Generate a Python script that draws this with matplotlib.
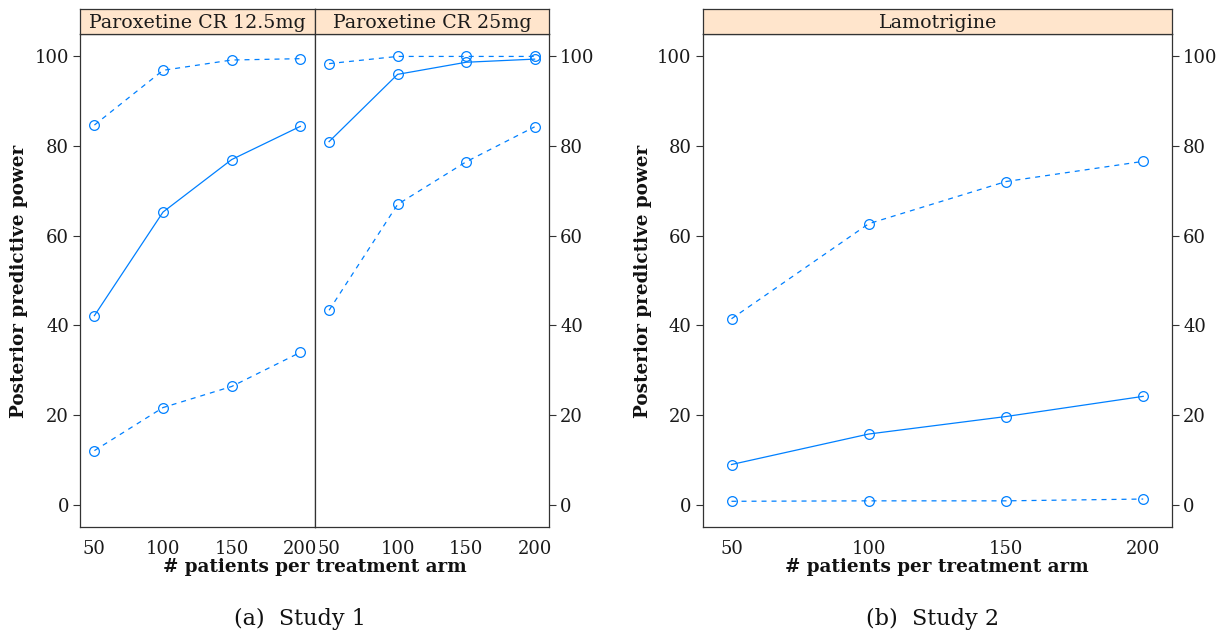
import matplotlib
matplotlib.use("Agg")
import matplotlib.pyplot as plt

# ---- data ----
n_patients = [50, 100, 150, 200]

panel_titles = ["Paroxetine CR 12.5mg", "Paroxetine CR 25mg", "Lamotrigine"]

# Study 1, Paroxetine CR 12.5mg
p125_upper = [84.7, 96.9, 99.2, 99.5]
p125_mid = [42.2, 65.3, 77.0, 84.4]
p125_lower = [12.1, 21.7, 26.4, 34.0]

# Study 1, Paroxetine CR 25mg
p25_upper = [98.4, 100.0, 100.0, 100.0]
p25_mid = [81.0, 96.0, 98.7, 99.4]
p25_lower = [43.4, 67.0, 76.5, 84.3]

# Study 2, Lamotrigine
lam_upper = [41.5, 62.7, 72.1, 76.6]
lam_mid = [9.0, 15.8, 19.7, 24.2]
lam_lower = [0.8, 0.9, 0.9, 1.3]

x_ticks = [50, 100, 150, 200]
y_ticks = [0, 20, 40, 60, 80, 100]

xlabel = "# patients per treatment arm"
ylabel = "Posterior predictive power"
captions = ["(a)  Study 1", "(b)  Study 2"]

# ---- style ----
W, H = 1225, 637
DPI = 100
BLUE = "#0080ff"
FRAME = "#333333"
STRIP_BG = "#ffe5cc"
SERIF = ["DejaVu Serif"]
TICK_FS = 13
STRIP_FS = 13.7
LABEL_FS = 13.2
CAP_FS = 16

plt.rcParams["font.family"] = SERIF

fig = plt.figure(figsize=(W / DPI, H / DPI), dpi=DPI)


def rect(x0, y0, x1, y1):
    """pixel box (top-left origin) -> figure fraction rect"""
    return [x0 / W, 1 - y1 / H, (x1 - x0) / W, (y1 - y0) / H]


AX_TOP, AX_BOT = 34.0, 527.3
STRIP_TOP = 9.3


def make_panel(x0, x1, title, series, left_ticks, right_ticks):
    ax = fig.add_axes(rect(x0, AX_TOP, x1, AX_BOT))
    for vals, ls in series:
        ax.plot(n_patients, vals, color=BLUE, lw=0.9, linestyle=ls,
                marker="o", markersize=7, markerfacecolor="none",
                markeredgecolor=BLUE, markeredgewidth=0.9)
    ax.set_xlim(39.5, 210.5)
    ax.set_ylim(-5, 105)
    ax.set_xticks(x_ticks)
    ax.set_xticklabels([str(v) for v in x_ticks])
    ax.set_yticks(y_ticks)
    ax.set_yticklabels([str(v) for v in y_ticks])
    ax.tick_params(axis="x", length=0, pad=9, labelsize=TICK_FS, colors="#1a1a1a")
    ax.tick_params(axis="y", length=5, width=0.8, pad=3, labelsize=TICK_FS,
                   color=FRAME, labelcolor="#1a1a1a", direction="out",
                   left=left_ticks, labelleft=left_ticks,
                   right=right_ticks, labelright=right_ticks)
    for sp in ax.spines.values():
        sp.set_color(FRAME)
        sp.set_linewidth(0.9)
    # strip
    sax = fig.add_axes(rect(x0, STRIP_TOP, x1, AX_TOP))
    sax.set_facecolor(STRIP_BG)
    sax.set_xticks([])
    sax.set_yticks([])
    for sp in sax.spines.values():
        sp.set_color(FRAME)
        sp.set_linewidth(0.9)
    sax.text(0.5, 0.45, title, ha="center", va="center", fontsize=STRIP_FS,
             color="#1a1a1a", transform=sax.transAxes)
    return ax


DASH = (0, (4, 4))
make_panel(80.0, 314.7, panel_titles[0],
           [(p125_upper, DASH), (p125_mid, "-"), (p125_lower, DASH)], True, False)
make_panel(314.7, 549.0, panel_titles[1],
           [(p25_upper, DASH), (p25_mid, "-"), (p25_lower, DASH)], False, True)
make_panel(702.7, 1172.0, panel_titles[2],
           [(lam_upper, DASH), (lam_mid, "-"), (lam_lower, DASH)], True, True)

# axis labels
fig.text(19 / W, 1 - 281 / H, ylabel, rotation=90, ha="center", va="center",
         fontsize=LABEL_FS, fontweight="bold", color="#111111")
fig.text(643 / W, 1 - 281 / H, ylabel, rotation=90, ha="center", va="center",
         fontsize=LABEL_FS, fontweight="bold", color="#111111")
fig.text(314.7 / W, 1 - 567 / H, xlabel, ha="center", va="center",
         fontsize=LABEL_FS, fontweight="bold", color="#111111")
fig.text(937.3 / W, 1 - 567 / H, xlabel, ha="center", va="center",
         fontsize=LABEL_FS, fontweight="bold", color="#111111")

# captions
fig.text(300 / W, 1 - 619 / H, captions[0], ha="center", va="center",
         fontsize=CAP_FS, color="#111111")
fig.text(932 / W, 1 - 619 / H, captions[1], ha="center", va="center",
         fontsize=CAP_FS, color="#111111")

fig.savefig("out.png", dpi=DPI, facecolor="white")
